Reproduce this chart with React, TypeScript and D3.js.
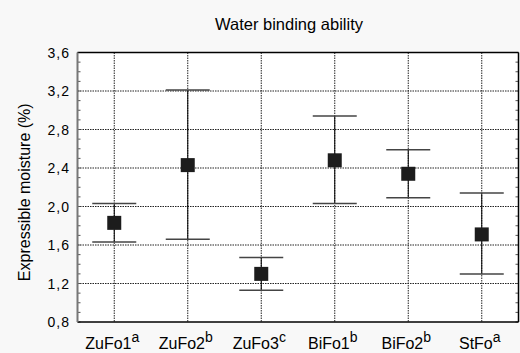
import React from "react";
import * as d3 from "d3";

const title = "Water binding ability";
const yLabel = "Expressible moisture (%)";
const categories = ["ZuFo1", "ZuFo2", "ZuFo3", "BiFo1", "BiFo2", "StFo"];
const groupLetters = ["a", "b", "c", "b", "b", "a"];
const means = [1.83, 2.43, 1.30, 2.48, 2.34, 1.71];
const upper = [2.03, 3.21, 1.47, 2.94, 2.59, 2.14];
const lower = [1.63, 1.66, 1.13, 2.03, 2.09, 1.30];
const yTicks = [0.8, 1.2, 1.6, 2.0, 2.4, 2.8, 3.2, 3.6];

const W = 520;
const H = 353;
const left = 77.5;
const right = 518.5;
const top = 52.5;
const bottom = 322;

export default function App() {
  const x = d3.scaleBand<string>().domain(categories).range([left, right]);
  const y = d3.scaleLinear().domain([0.8, 3.6]).range([bottom, top]);
  const minor = d3.range(8, 37).map((v) => v / 10);
  const fmt = (v: number) => v.toFixed(1).replace(".", ",");
  const cx = (c: string) => (x(c) as number) + x.bandwidth() / 2;
  const font = "Liberation Sans, Arial, sans-serif";

  return (
    <svg
      width={W}
      height={H}
      style={{ position: "fixed", left: 0, top: 0, background: "#f8f8f8" }}
      fontFamily={font}
    >
      <rect x={left} y={top} width={right - left} height={bottom - top} fill="#fff" />

      {/* dotted grid */}
      {yTicks.slice(1, -1).map((t) => (
        <line key={"h" + t} x1={left} x2={right} y1={y(t)} y2={y(t)}
          stroke="#222" strokeWidth={1} strokeDasharray="1.5,1" />
      ))}
      {categories.map((c) => (
        <line key={"v" + c} x1={cx(c)} x2={cx(c)} y1={top} y2={bottom}
          stroke="#222" strokeWidth={1} strokeDasharray="1.5,1" />
      ))}

      {/* minor ticks on both vertical axes */}
      {minor.map((t) => (
        <g key={"m" + t}>
          <line x1={left} x2={left + 3} y1={y(t)} y2={y(t)} stroke="#555" />
          <line x1={right - 3} x2={right} y1={y(t)} y2={y(t)} stroke="#555" />
        </g>
      ))}

      {/* frame */}
      <line x1={left} x2={right} y1={top} y2={top} stroke="#000" strokeWidth={1.5} />
      <line x1={left} x2={right} y1={bottom} y2={bottom} stroke="#000" strokeWidth={1.5} />
      <line x1={right} x2={right} y1={top} y2={bottom} stroke="#000" strokeWidth={1.5} />
      <line x1={left} x2={left} y1={top} y2={bottom} stroke="#777" strokeWidth={2} />

      {/* error bars and means */}
      {categories.map((c, i) => {
        const px = cx(c);
        return (
          <g key={"e" + c}>
            <line x1={px} x2={px} y1={y(upper[i])} y2={y(lower[i])} stroke="#000" strokeWidth={1} />
            <line x1={px - 22} x2={px + 22} y1={y(upper[i])} y2={y(upper[i])} stroke="#444" strokeWidth={1.5} />
            <line x1={px - 22} x2={px + 22} y1={y(lower[i])} y2={y(lower[i])} stroke="#444" strokeWidth={1.5} />
            <rect x={px - 7} y={y(means[i]) - 7} width={14} height={14} fill="#1c1c1c" />
          </g>
        );
      })}

      {/* y tick labels */}
      {yTicks.map((t) => (
        <text key={"yl" + t} x={70} y={y(t) + 5} textAnchor="end" fontSize={14} letterSpacing={1} fill="#000">
          {fmt(t)}
        </text>
      ))}

      {/* x labels with superscript letters */}
      {categories.map((c, i) => (
        <text key={"xl" + c} x={cx(c) - 2} y={349} textAnchor="middle" fontSize={16} fill="#000">
          {c}
          <tspan fontSize={14} dy={-7}>{groupLetters[i]}</tspan>
        </text>
      ))}

      <text x={289} y={30} textAnchor="middle" fontSize={16.5} fill="#000">{title}</text>
      <text transform={`translate(30, ${(top + bottom) / 2 + 5}) rotate(-90)`} textAnchor="middle" fontSize={16} fill="#000">
        {yLabel}
      </text>
    </svg>
  );
}
